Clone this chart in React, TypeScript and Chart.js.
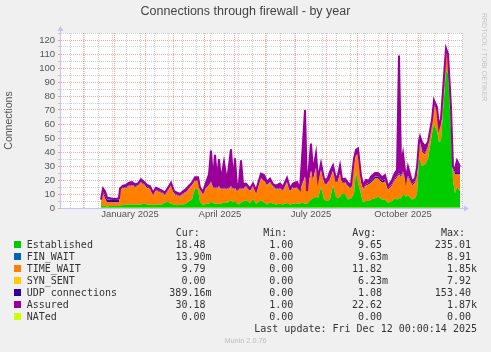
import React, { useEffect, useRef } from 'react';
import { Chart, registerables } from 'chart.js';

Chart.register(...registerables);

// x values: days since 9 Nov 2024 (one pixel per day in the original)
const days = [
  40, 42, 44, 46, 49, 52, 55, 58, 59, 62,
  65, 68, 71, 74, 77, 80, 83, 86, 89, 92,
  95, 98, 101, 104, 107, 110, 113, 116, 119, 122,
  125, 128, 131, 134, 137, 139, 142, 145, 148, 150,
  152, 154, 156, 158, 160, 163, 166, 170, 172, 174,
  176, 178, 180, 182, 185, 189, 192, 195, 200, 203,
  206, 209, 212, 215, 219, 222, 226, 229, 232, 236,
  239, 241, 244, 246, 250, 252, 255, 257, 260, 263,
  266, 269, 272, 275, 277, 279, 281, 284, 287, 290,
  293, 295, 297, 300, 302, 305, 308, 310, 314, 317,
  321, 324, 327, 331, 334, 336, 338, 340, 342, 345,
  347, 351, 354, 356, 358, 359, 361, 364, 367, 371,
  373, 376, 378, 380, 383, 385, 387, 390, 392, 394,
  396, 399,
];

const established = [
  1, 2, 1.5, 1, 1.5, 1.5, 1.5, 1.5, 2, 2,
  2.5, 2.5, 2.5, 2.5, 2.5, 2.5, 3, 2.5, 2.5, 2,
  2.5, 2.5, 2.5, 4, 4.5, 3, 2.5, 2, 2.5, 2.5,
  3, 5, 6, 14, 13, 4.5, 2, 3, 3, 4.5,
  3.5, 3, 3, 3, 3, 4, 3.5, 5.5, 4, 5,
  3, 2.5, 4, 4.5, 5.5, 3.5, 6.5, 3, 5.5, 4,
  2.5, 4, 3, 2.5, 3, 2.5, 3.5, 2.5, 3, 3.3,
  3, 4, 3, 3, 6, 7, 8, 7, 15, 6,
  5, 6, 16, 8, 7, 8, 10, 10, 6, 7,
  10, 26, 18, 10, 4, 5, 5, 6, 7, 8,
  6, 6, 3.5, 5, 7, 6, 7, 7, 10, 8,
  9, 6, 7, 10, 35, 34, 30, 31, 35, 53,
  60, 55, 47, 48, 79, 98, 96, 56, 20, 10.5,
  15, 12,
];

const timeWait = [
  3, 8.5, 5.5, 3, 2.5, 2.5, 2.5, 2.5, 10.5, 12.5,
  11.5, 13, 13.5, 12.5, 13, 15.5, 13.5, 12, 11, 7,
  10, 9, 8, 5, 8, 13, 7.5, 7, 5.5, 7.5,
  8, 8.5, 10, 5.5, 6, 8, 7.5, 11, 13, 13.5,
  10.5, 11, 11, 12, 10, 10, 9.5, 9.5, 9, 9,
  9, 10.5, 10, 8.5, 9.5, 8, 9, 7, 15.5, 15,
  13.5, 14, 12, 10.5, 11, 9.5, 14.5, 9, 11.5, 10.7,
  9, 12, 19, 8, 20, 13, 20, 11, 12, 11.5,
  12, 14, 10, 10, 12, 16, 8, 8, 9, 7,
  20, 12, 20, 8, 9, 11, 12, 12, 14, 13,
  12, 13, 9.5, 11, 13, 16, 17, 15, 15, 9,
  13, 10, 11, 12, 9, 12, 10, 7, 8, 7,
  13, 13, 9, 11, 11, 14, 12, 14, 7, 13.5,
  9, 12,
];

const udp = [
  0.5, 1, 2, 2, 2, 2, 2, 2, 0.5, 0.5,
  0.5, 0.5, 0.5, 0.5, 0.5, 0.5, 0.5, 1, 0.5, 0.5,
  0.5, 0.5, 0.5, 0.5, 0.5, 0.5, 0.5, 0.5, 0.5, 0.5,
  0.5, 0.5, 0.5, 0.5, 0.5, 0.5, 0.5, 0.5, 0.5, 0.5,
  0.5, 0.5, 0.5, 0.5, 0.5, 0.5, 0.5, 0.5, 0.5, 0.5,
  0.5, 0.5, 0.5, 0.5, 0.5, 0.5, 0.5, 0.5, 0.5, 0.5,
  0.5, 0.5, 0.5, 0.5, 0.5, 0.5, 0.5, 0.5, 0.5, 0.5,
  0.5, 0.5, 0.5, 0.5, 0.5, 0.5, 0.5, 0.5, 0.5, 0.5,
  0.5, 0.5, 0.5, 0.5, 0.5, 0.5, 0.5, 0.5, 0.5, 0.5,
  0.5, 0.5, 0.5, 0.5, 0.5, 1, 1, 1.5, 1.5, 1.5,
  1.5, 1.5, 1, 1, 1, 1, 1, 1, 1, 1,
  1, 1, 1, 1, 1, 1, 1, 1, 1, 1,
  1, 1, 1, 1, 1, 1, 1, 1, 1, 1,
  1, 1,
];

const assured = [
  6, 14, 12, 7.5, 7, 6.5, 6.5, 7, 14, 16,
  16.5, 18, 18.5, 17, 17.5, 20.5, 18.5, 16.5, 15.5, 11,
  14.5, 13.5, 12.5, 11, 14.5, 18, 12, 11, 10, 12,
  13.5, 16, 18, 22, 22, 14.5, 11.5, 18, 24, 41,
  20, 38, 21, 35, 20, 33, 19, 42, 21, 35.5,
  15, 18, 34, 17, 17.5, 14, 17.5, 12.5, 24.5, 23.5,
  18.8, 21, 17, 16, 17.5, 15, 21.5, 14, 17.5, 18.5,
  14, 35, 70, 12, 46, 26, 39, 21, 32, 21,
  20, 26, 30.5, 20.5, 23.5, 30.5, 20.5, 21, 18, 16.5,
  35.5, 41.5, 42.5, 23, 16.5, 20, 19.5, 22.5, 25, 25,
  22, 23.5, 15.5, 20, 25, 27, 109, 30, 39, 21,
  29.5, 19, 21, 29, 48, 51, 47, 44, 47, 63,
  77, 72, 58, 64, 94, 114, 110, 72, 29.5, 28,
  34, 29.5,
];

const nated = [
  0, 0, 0, 0, 0, 0, 0, 0, 0, 0, 0, 0, 0, 0, 0, 0, 0, 0, 0, 0, 0, 0,
  0, 0, 0, 0, 0, 0, 0, 0, 0, 0, 0, 0, 0, 0, 0, 0, 0, 0, 0, 0, 0, 0,
  0, 0, 0, 0, 0, 0, 0, 0, 0, 0, 0, 0, 0, 0, 0, 0, 0, 0, 0, 0, 0, 0,
  0, 0, 0, 0, 0, 0, 0, 0, 0, 0, 0, 0, 0, 0, 0, 0, 0, 0, 0, 0, 0, 0,
  0, 0, 0, 0, 0, 0, 0, 0, 0, 0, 0, 0, 0, 0, 0, 0, 0, 0, 0, 0, 0, 0,
  0, 0, 0, 0, 0, 0, 0, 0, 0, 0, 0, 0, 0, 0, 0, 0, 0, 0, 0, 0, 0, 0,
];

// axis ticks
const monthStartDays = [22, 53, 84, 112, 143, 173, 204, 234, 265, 296, 326, 357, 387];
const biweeklyDays = [9, 23, 37, 51, 65, 79, 93, 107, 121, 135, 149, 163, 177, 191, 205, 219, 233, 247, 261, 275, 289, 303, 317, 331, 345, 359, 373, 387, 401];
const quarterLabelDays = [69, 159, 250, 342];
const quarterLabels = ['January 2025', 'April 2025', 'July 2025', 'October 2025'];
const yTickValues = [0, 5, 10, 15, 20, 25, 30, 35, 40, 45, 50, 55, 60, 65, 70, 75, 80, 85, 90, 95, 100, 105, 110, 115, 120, 125];

// legend table
const legendNames = ['Established', 'FIN_WAIT', 'TIME_WAIT', 'SYN_SENT', 'UDP connections', 'Assured', 'NATed'];
const legendColors = ['#00CC00', '#0066B3', '#FF8000', '#FFCC00', '#330099', '#990099', '#CCFF00'];
const curValues = ['18.48 ', '13.90m', '9.79 ', '0.00 ', '389.16m', '30.18 ', '0.00 '];
const minValues = ['1.00 ', '0.00 ', '0.00 ', '0.00 ', '0.00 ', '1.00 ', '0.00 '];
const avgValues = ['9.65 ', '9.63m', '11.82 ', '6.23m', '1.08 ', '22.62 ', '0.00 '];
const maxValues = ['235.01 ', '8.91 ', '1.85k', '7.92 ', '153.40 ', '1.87k', '0.00 '];

const RED_GRID = 'rgba(240,40,40,0.42)';
const GREY_GRID = 'rgba(128,128,128,0.38)';
const AXIS_COLOR = 'rgb(196,196,240)';
const TEXT_COLOR = '#555555';

const pts = (vals: number[]) => days.map((d, i) => ({ x: d, y: vals[i] }));

const framePlugin = {
  id: 'muninFrame',
  beforeDraw(chart: any) {
    const { ctx, chartArea } = chart;
    ctx.save();
    ctx.fillStyle = '#F0F0F0';
    ctx.fillRect(0, 0, chart.width, chart.height);
    ctx.fillStyle = '#FFFFFF';
    ctx.fillRect(chartArea.left, chartArea.top, chartArea.right - chartArea.left, chartArea.bottom - chartArea.top);
    ctx.restore();
  },
  beforeDatasetsDraw(chart: any) {
    const { ctx, chartArea } = chart;
    const x0 = chartArea.left - 0.5;
    const y0 = chartArea.bottom + 0.5;
    ctx.save();
    ctx.strokeStyle = AXIS_COLOR;
    ctx.fillStyle = AXIS_COLOR;
    ctx.lineWidth = 1;
    ctx.beginPath();
    ctx.moveTo(x0, y0);
    ctx.lineTo(x0, chartArea.top - 3);
    ctx.moveTo(x0, y0);
    ctx.lineTo(chartArea.right + 3, y0);
    ctx.stroke();
    ctx.beginPath();
    ctx.moveTo(x0, chartArea.top - 7);
    ctx.lineTo(x0 - 3, chartArea.top - 2);
    ctx.lineTo(x0 + 3, chartArea.top - 2);
    ctx.closePath();
    ctx.fill();
    ctx.beginPath();
    ctx.moveTo(chartArea.right + 7, y0);
    ctx.lineTo(chartArea.right + 2, y0 - 3);
    ctx.lineTo(chartArea.right + 2, y0 + 3);
    ctx.closePath();
    ctx.fill();
    ctx.restore();
  },
};

export default function App() {
  const ref = useRef<HTMLCanvasElement>(null);

  useEffect(() => {
    if (!ref.current) return;
    const xTickValues = Array.from(new Set([...biweeklyDays, ...monthStartDays, ...quarterLabelDays])).sort((a, b) => a - b);
    const chart = new Chart(ref.current, {
      type: 'line',
      data: {
        datasets: [
          { label: 'Established', data: pts(established), backgroundColor: '#00CC00', borderColor: '#00CC00', borderWidth: 0, fill: 'origin', stack: 'conn' },
          { label: 'TIME_WAIT', data: pts(timeWait), backgroundColor: '#FF8000', borderColor: '#FF8000', borderWidth: 0, fill: '-1', stack: 'conn' },
          { label: 'UDP connections', data: pts(udp), backgroundColor: '#330099', borderColor: '#330099', borderWidth: 0, fill: '-1', stack: 'conn' },
          { label: 'Assured', data: pts(assured), borderColor: '#990099', backgroundColor: '#990099', borderWidth: 2, fill: { target: '-1', above: '#990099', below: 'rgba(0,0,0,0)' }, stack: 'assured', order: -1 },
          { label: 'NATed', data: pts(nated), borderColor: '#CCFF00', backgroundColor: '#CCFF00', borderWidth: 1, fill: false, stack: 'nated', order: -2 },
        ] as any,
      },
      options: {
        responsive: false,
        animation: false,
        events: [],
        layout: { padding: { left: 0, top: 33, right: 29, bottom: 0 } },
        elements: { point: { radius: 0 }, line: { tension: 0 } },
        plugins: { legend: { display: false }, tooltip: { enabled: false }, title: { display: false } },
        scales: {
          x: {
            type: 'linear',
            min: 0,
            max: 401,
            z: 1,
            afterBuildTicks: (scale: any) => {
              scale.ticks = xTickValues.map((v) => ({ value: v }));
            },
            afterFit: (scale: any) => {
              scale.height = 144;
            },
            ticks: {
              autoSkip: false,
              maxRotation: 0,
              padding: 1,
              color: TEXT_COLOR,
              font: { family: 'Liberation Sans', size: 9.5 },
              callback: (v: any) => {
                const i = quarterLabelDays.indexOf(Number(v));
                return i >= 0 ? quarterLabels[i] : '';
              },
            },
            grid: {
              drawTicks: false,
              lineWidth: 1,
              color: (ctx: any) => {
                const v = ctx.tick ? ctx.tick.value : -1;
                if (monthStartDays.includes(v)) return RED_GRID;
                if (biweeklyDays.includes(v)) return GREY_GRID;
                return 'rgba(0,0,0,0)';
              },
            },
            border: { display: false, dash: [1, 1] },
          },
          y: {
            type: 'linear',
            stacked: true,
            min: 0,
            max: 125,
            z: 1,
            afterBuildTicks: (scale: any) => {
              scale.ticks = yTickValues.map((v) => ({ value: v }));
            },
            afterFit: (scale: any) => {
              scale.width = 61;
            },
            title: {
              display: true,
              text: 'Connections',
              color: TEXT_COLOR,
              font: { family: 'Liberation Sans', size: 10.5 },
              padding: { top: 3, bottom: 0 },
            },
            ticks: {
              autoSkip: false,
              padding: 3,
              color: TEXT_COLOR,
              font: { family: 'Liberation Sans', size: 9.5 },
              callback: (v: any) => (Number(v) % 10 === 0 ? String(v) : ''),
            },
            grid: {
              drawTicks: true,
              tickLength: 3,
              lineWidth: 1,
              color: (ctx: any) => {
                const v = ctx.tick ? ctx.tick.value : 0;
                return v % 10 === 0 ? RED_GRID : GREY_GRID;
              },
            },
            border: { display: false, dash: [1, 1] },
          },
        },
      } as any,
      plugins: [framePlugin],
    });
    return () => chart.destroy();
  }, []);

  const mono: React.CSSProperties = {
    position: 'absolute',
    fontFamily: '"DejaVu Sans Mono", monospace',
    fontSize: 10,
    lineHeight: '12px',
    color: '#333333',
    whiteSpace: 'pre',
  };
  const rowBaseline = (i: number) => 248.3 + 12.02 * i;
  const topFor = (baseline: number) => baseline - 9.46;

  return (
    <div style={{ position: 'absolute', left: 0, top: 0, width: 491, height: 352, background: '#F0F0F0', overflow: 'hidden' }}>
      <canvas ref={ref} width={491} height={352} style={{ position: 'absolute', left: 0, top: 0, width: 491, height: 352 }} />
      <div style={{ position: 'absolute', left: 0, top: 4.2, width: 491, textAlign: 'center', fontFamily: '"Liberation Sans", sans-serif', fontSize: 12.5, lineHeight: '15px', color: '#444444', whiteSpace: 'pre' }}>
        Connections through firewall - by year
      </div>
      <div style={{ position: 'absolute', left: 487.5, top: 13, transformOrigin: '0 0', transform: 'rotate(90deg)', fontFamily: '"Liberation Sans", sans-serif', fontSize: 7, lineHeight: '8px', color: '#C4C4C4', whiteSpace: 'pre' }}>
        RRDTOOL / TOBI OETIKER
      </div>
      <div style={{ ...mono, left: 175.7, top: topFor(236.3) }}>Cur:</div>
      <div style={{ ...mono, left: 263.3, top: topFor(236.3) }}>Min:</div>
      <div style={{ ...mono, left: 352.3, top: topFor(236.3) }}>Avg:</div>
      <div style={{ ...mono, left: 441, top: topFor(236.3) }}>Max:</div>
      {legendNames.map((name, i) => (
        <React.Fragment key={name}>
          <div style={{ position: 'absolute', left: 14, top: rowBaseline(i) - 7, width: 7, height: 7, background: legendColors[i] }} />
          <div style={{ ...mono, left: 26.7, top: topFor(rowBaseline(i)) }}>{name}</div>
          <div style={{ ...mono, right: 491 - 211.5, top: topFor(rowBaseline(i)), textAlign: 'right' }}>{curValues[i]}</div>
          <div style={{ ...mono, right: 491 - 299.3, top: topFor(rowBaseline(i)), textAlign: 'right' }}>{minValues[i]}</div>
          <div style={{ ...mono, right: 491 - 388, top: topFor(rowBaseline(i)), textAlign: 'right' }}>{avgValues[i]}</div>
          <div style={{ ...mono, right: 491 - 477, top: topFor(rowBaseline(i)), textAlign: 'right' }}>{maxValues[i]}</div>
        </React.Fragment>
      ))}
      <div style={{ ...mono, right: 491 - 477, top: topFor(332.3), textAlign: 'right' }}>Last update: Fri Dec 12 00:00:14 2025</div>
      <div style={{ position: 'absolute', left: 0, width: 491, top: 335.5, textAlign: 'center', fontFamily: '"Liberation Sans", sans-serif', fontSize: 7.3, lineHeight: '9px', color: '#BDBDBD', whiteSpace: 'pre' }}>
        Munin 2.0.76
      </div>
    </div>
  );
}
